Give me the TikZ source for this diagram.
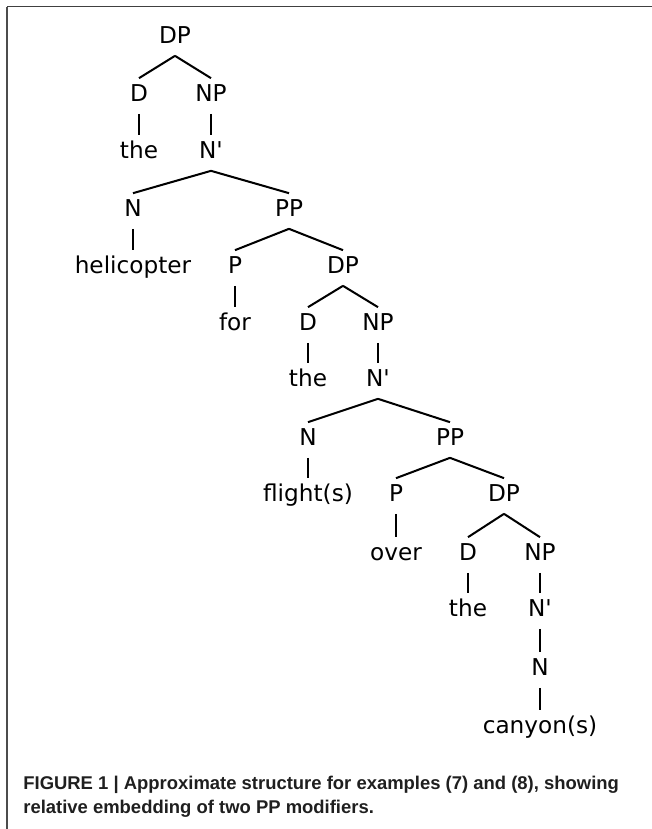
\documentclass[tikz,border=0pt]{standalone}
\usepackage{fontspec}
\setmainfont{DejaVu Sans}
\newfontfamily\capfont{Liberation Sans}
\usetikzlibrary{calc}

\begin{document}
\begin{tikzpicture}[
    x=0.02cm, y=-0.02cm,
    cat/.style={inner sep=0pt, text height=13pt, text depth=6.9pt, font=\fontsize{13.2}{15}\selectfont},
    branch/.style={line width=1.15pt},
    caption/.style={anchor=base west, inner sep=0pt, text=black!88, font=\capfont\bfseries\fontsize{10.5}{13}\selectfont}
]
    \useasboundingbox (0,0) rectangle (652,829);

    % Frame
    \draw[black!70, line width=0.9pt] (7,829) -- (7,6.5);
    \draw[black!75, line width=1.1pt] (7,6.5) -- (652,6.5);

    % Top DP
    \node[cat] (DP0) at (175,38) {DP};
    \node[cat] (D0) at ($(DP0)+(-36,58)$) {D};
    \node[cat] (NP0) at ($(DP0)+(36,58)$) {NP};
    \node[cat] (the0) at ($(D0)+(0,57)$) {the};
    \node[cat] (Nb0) at ($(NP0)+(0,57)$) {N\textquotesingle};

    % First N' and PP
    \node[cat] (N1) at ($(Nb0)+(-78,58)$) {N};
    \node[cat] (PP1) at ($(Nb0)+(78,58)$) {PP};
    \node[cat] (helicopter) at ($(N1)+(0,57)$) {helicopter};
    \node[cat] (P1) at ($(PP1)+(-54,57)$) {P};
    \node[cat] (DP1) at ($(PP1)+(54,57)$) {DP};
    \node[cat] (for) at ($(P1)+(0,57)$) {for};
    \node[cat] (D1) at ($(DP1)+(-35,57)$) {D};
    \node[cat] (NP1) at ($(DP1)+(35,57)$) {NP};
    \node[cat] (the1) at ($(D1)+(0,56)$) {the};
    \node[cat] (Nb1) at ($(NP1)+(0,56)$) {N\textquotesingle};

    % Second N' and PP
    \node[cat] (N2) at ($(Nb1)+(-70,59)$) {N};
    \node[cat] (PP2) at ($(Nb1)+(72,59)$) {PP};
    \node[cat] (flights) at ($(N2)+(0,56)$) {flight(s)};
    \node[cat] (P2) at ($(PP2)+(-54,56)$) {P};
    \node[cat] (DP2) at ($(PP2)+(54,56)$) {DP};
    \node[cat] (over) at ($(P2)+(0,59)$) {over};
    \node[cat] (D2) at ($(DP2)+(-36,59)$) {D};
    \node[cat] (NP2) at ($(DP2)+(36,59)$) {NP};
    \node[cat] (the2) at ($(D2)+(0,56)$) {the};
    \node[cat] (Nb2) at ($(NP2)+(0,56)$) {N\textquotesingle};
    \node[cat] (N3) at ($(Nb2)+(0,59)$) {N};
    \node[cat] (canyons) at ($(N3)+(0,58)$) {canyon(s)};

    % Branches
    \draw[branch] (DP0.south) -- (D0.north);
    \draw[branch] (DP0.south) -- (NP0.north);
    \draw[branch] (D0.south) -- (the0.north);
    \draw[branch] (NP0.south) -- (Nb0.north);

    \draw[branch] (Nb0.south) -- (N1.north);
    \draw[branch] (Nb0.south) -- (PP1.north);
    \draw[branch] (N1.south) -- (helicopter.north);
    \draw[branch] (PP1.south) -- (P1.north);
    \draw[branch] (PP1.south) -- (DP1.north);
    \draw[branch] (P1.south) -- (for.north);
    \draw[branch] (DP1.south) -- (D1.north);
    \draw[branch] (DP1.south) -- (NP1.north);
    \draw[branch] (D1.south) -- (the1.north);
    \draw[branch] (NP1.south) -- (Nb1.north);

    \draw[branch] (Nb1.south) -- (N2.north);
    \draw[branch] (Nb1.south) -- (PP2.north);
    \draw[branch] (N2.south) -- (flights.north);
    \draw[branch] (PP2.south) -- (P2.north);
    \draw[branch] (PP2.south) -- (DP2.north);
    \draw[branch] (P2.south) -- (over.north);
    \draw[branch] (DP2.south) -- (D2.north);
    \draw[branch] (DP2.south) -- (NP2.north);
    \draw[branch] (D2.south) -- (the2.north);
    \draw[branch] (NP2.south) -- (Nb2.north);
    \draw[branch] (Nb2.south) -- (N3.north);
    \draw[branch] (N3.south) -- (canyons.north);

    % Caption
    \node[caption] (cap1) at (23,789) {FIGURE 1 | Approximate structure for examples (7) and (8), showing};
    \node[caption] (cap2) at ($(cap1.base west)+(0,24)$) {relative embedding of two PP modifiers.};
\end{tikzpicture}
\end{document}
